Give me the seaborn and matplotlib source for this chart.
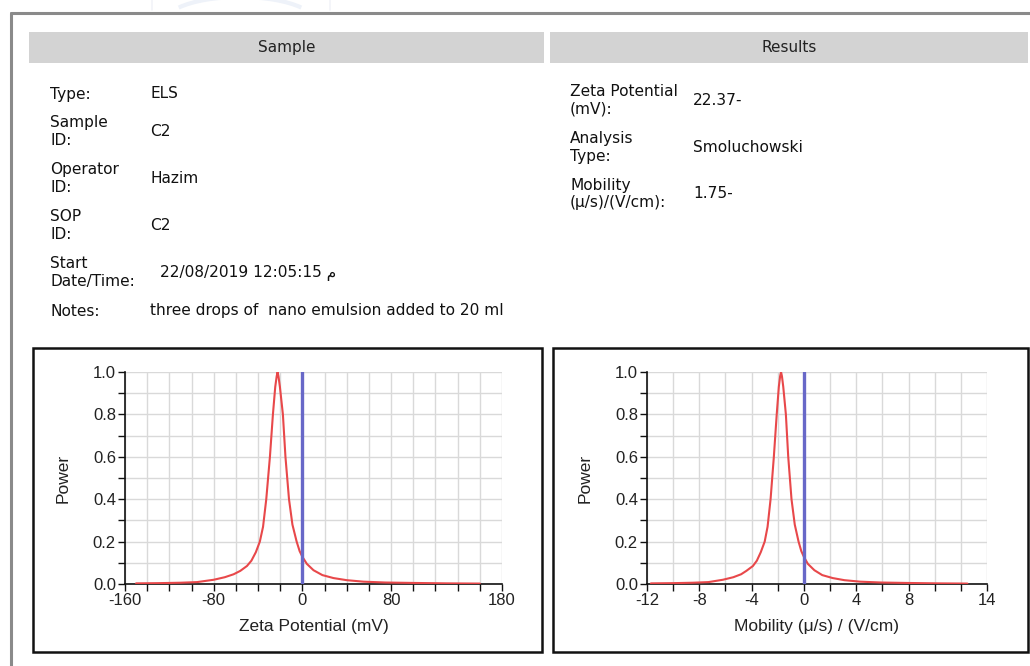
import matplotlib
matplotlib.use("Agg")
import matplotlib.pyplot as plt
import seaborn as sns
import pandas as pd
from matplotlib.patches import Rectangle, Arc
from matplotlib.lines import Line2D

# ---------------- data ----------------
zeta_mv = [-150, -130, -110, -95, -80, -70, -62, -56, -50, -46, -42, -38.4, -35.5,
           -32.6, -29.3, -26.6, -24.5, -23.2, -22.4, -21.6, -20.3, -17.6, -15.3, -12.1,
           -9, -5.2, -2.5, 0, 4, 10, 18, 28, 40, 55, 75, 100, 130, 160]
zeta_power = [0.003, 0.004, 0.006, 0.009, 0.020, 0.032, 0.046, 0.062, 0.085, 0.11, 0.15,
              0.20, 0.27, 0.40, 0.60, 0.80, 0.93, 0.98, 1.00, 0.98, 0.93, 0.80, 0.60,
              0.40, 0.28, 0.20, 0.155, 0.128, 0.095, 0.065, 0.042, 0.028, 0.018,
              0.011, 0.007, 0.005, 0.003, 0.002]

mob = [-11.7, -10, -8.5, -7.3, -6.2, -5.4, -4.8, -4.4, -3.9, -3.6, -3.3, -3.0, -2.78,
       -2.55, -2.3, -2.08, -1.92, -1.82, -1.75, -1.68, -1.58, -1.38, -1.2, -0.95,
       -0.7, -0.41, -0.2, 0, 0.3, 0.8, 1.4, 2.2, 3.1, 4.3, 5.9, 7.8, 10.2, 12.5]
mob_power = [0.003, 0.004, 0.006, 0.009, 0.020, 0.032, 0.046, 0.062, 0.085, 0.11, 0.15,
             0.20, 0.27, 0.40, 0.60, 0.80, 0.93, 0.98, 1.00, 0.98, 0.93, 0.80, 0.60,
             0.40, 0.28, 0.20, 0.155, 0.128, 0.095, 0.065, 0.042, 0.028, 0.018,
             0.011, 0.007, 0.005, 0.003, 0.002]

zeta_ticks = list(range(-160, 181, 20))
zeta_labels = ["-160", "", "", "", "-80", "", "", "", "0", "", "", "", "80", "", "", "", "", "180"]
mob_ticks = list(range(-12, 15, 2))
mob_labels = ["-12", "", "-8", "", "-4", "", "0", "", "4", "", "8", "", "", "14"]
y_ticks = [0.0, 0.1, 0.2, 0.3, 0.4, 0.5, 0.6, 0.7, 0.8, 0.9, 1.0]
y_labels = ["0.0", "", "0.2", "", "0.4", "", "0.6", "", "0.8", "", "1.0"]

sample_fields = [("Type:", "ELS"), ("Sample\nID:", "C2"), ("Operator\nID:", "Hazim"),
                 ("SOP\nID:", "C2"), ("Start\nDate/Time:", "22/08/2019 12:05:15 م"),
                 ("Notes:", "three drops of  nano emulsion added to 20 ml")]
result_fields = [("Zeta Potential\n(mV):", "22.37-"), ("Analysis\nType:", "Smoluchowski"),
                 ("Mobility\n(μ/s)/(V/cm):", "1.75-")]

# ---------------- figure ----------------
sns.set_theme(style="white")
plt.rcParams['font.family'] = ['DejaVu Sans']

W, H = 1030, 666
fig = plt.figure(figsize=(W / 100, H / 100), dpi=100)
fig.patch.set_facecolor("white")

def fx(px):
    return px / W

def fy(py):
    return 1 - py / H

# faint logo remnant at the top
fig.add_artist(Arc((fx(240), fy(22)), fx(150), 50 / H, theta1=20, theta2=160,
                   color="#eef2f9", lw=3, transform=fig.transFigure))
fig.add_artist(Line2D([fx(152), fx(152)], [fy(0), fy(10)], color="#f2f4f8", lw=1.2,
                      transform=fig.transFigure))
fig.add_artist(Line2D([fx(330), fx(330)], [fy(0), fy(10)], color="#f2f4f8", lw=1.2,
                      transform=fig.transFigure))

# outer frame
fig.add_artist(Line2D([fx(11), fx(1030)], [fy(13), fy(13)], color="#8a8a8a", lw=2.2,
                      transform=fig.transFigure))
fig.add_artist(Line2D([fx(11), fx(11)], [fy(13), fy(666)], color="#8a8a8a", lw=2.2,
                      transform=fig.transFigure))

# header bars
for x0, x1, label in [(29, 544, "Sample"), (550, 1028, "Results")]:
    fig.add_artist(Rectangle((fx(x0), fy(63)), fx(x1) - fx(x0), fy(32) - fy(63),
                             facecolor="#d3d3d3", edgecolor="none", transform=fig.transFigure))
    fig.text(fx((x0 + x1) / 2), fy(47.5), label, ha="center", va="center",
             fontsize=11, color="#222222")

FS = 11.1
# sample fields
sample_y = [94, 131.5, 178.5, 225.5, 272.5, 311]
for (lab, val), y in zip(sample_fields, sample_y):
    fig.text(fx(50), fy(y), lab, ha="left", va="center", fontsize=FS,
             color="#111111", linespacing=1.2)
    xv = 160 if "Date" in lab else 150
    fig.text(fx(xv), fy(y), val, ha="left", va="center", fontsize=FS,
             color="#111111")

result_y = [100.5, 147.5, 194]
for (lab, val), y in zip(result_fields, result_y):
    fig.text(fx(570), fy(y), lab, ha="left", va="center", fontsize=FS,
             color="#111111", linespacing=1.2)
    fig.text(fx(693), fy(y), val, ha="left", va="center", fontsize=FS,
             color="#111111")

# plot boxes
for x0, x1 in [(33, 542), (553, 1028)]:
    fig.add_artist(Rectangle((fx(x0), fy(652)), fx(x1) - fx(x0), fy(348) - fy(652),
                             facecolor="none", edgecolor="#111111", lw=1.8,
                             transform=fig.transFigure))

def make_axes(x0, x1, xs, ys, ticks, labels, xlim, xlabel):
    ax = fig.add_axes([fx(x0), fy(584), fx(x1) - fx(x0), fy(372) - fy(584)])
    df = pd.DataFrame({"x": xs, "y": ys})
    ax.set_xlim(*xlim)
    ax.set_ylim(0, 1)
    ax.set_xticks(ticks)
    ax.set_xticklabels(labels)
    ax.set_yticks(y_ticks)
    ax.set_yticklabels(y_labels)
    ax.grid(True, color="#d9d9d9", lw=1.0)
    ax.set_axisbelow(True)
    for s in ["top", "right"]:
        ax.spines[s].set_visible(False)
    for s in ["left", "bottom"]:
        ax.spines[s].set_color("#111111")
        ax.spines[s].set_linewidth(1.2)
    ax.tick_params(axis="both", direction="out", length=5, width=1.0, color="#111111",
                   labelsize=12, pad=1.5, labelcolor="#222222",
                   bottom=True, left=True)
    for t in ax.get_xticklabels() + ax.get_yticklabels():
        t.set_family("Liberation Sans")
    sns.lineplot(data=df, x="x", y="y", ax=ax, color="#e8484a", lw=1.5, zorder=3)
    ax.axvline(0, color="#6868c8", lw=2.4, zorder=4)
    ax.set_xlabel(xlabel, fontsize=12.5, family="Liberation Sans", color="#222222",
                  labelpad=8)
    ax.set_ylabel("Power", fontsize=12.5, family="Liberation Sans", color="#222222",
                  labelpad=16)
    return ax

make_axes(125, 502, zeta_mv, zeta_power, zeta_ticks, zeta_labels, (-160, 180),
          "Zeta Potential (mV)")
make_axes(647, 987, mob, mob_power, mob_ticks, mob_labels, (-12, 14),
          "Mobility (μ/s) / (V/cm)")

fig.savefig("out.png", dpi=100, facecolor="white")
